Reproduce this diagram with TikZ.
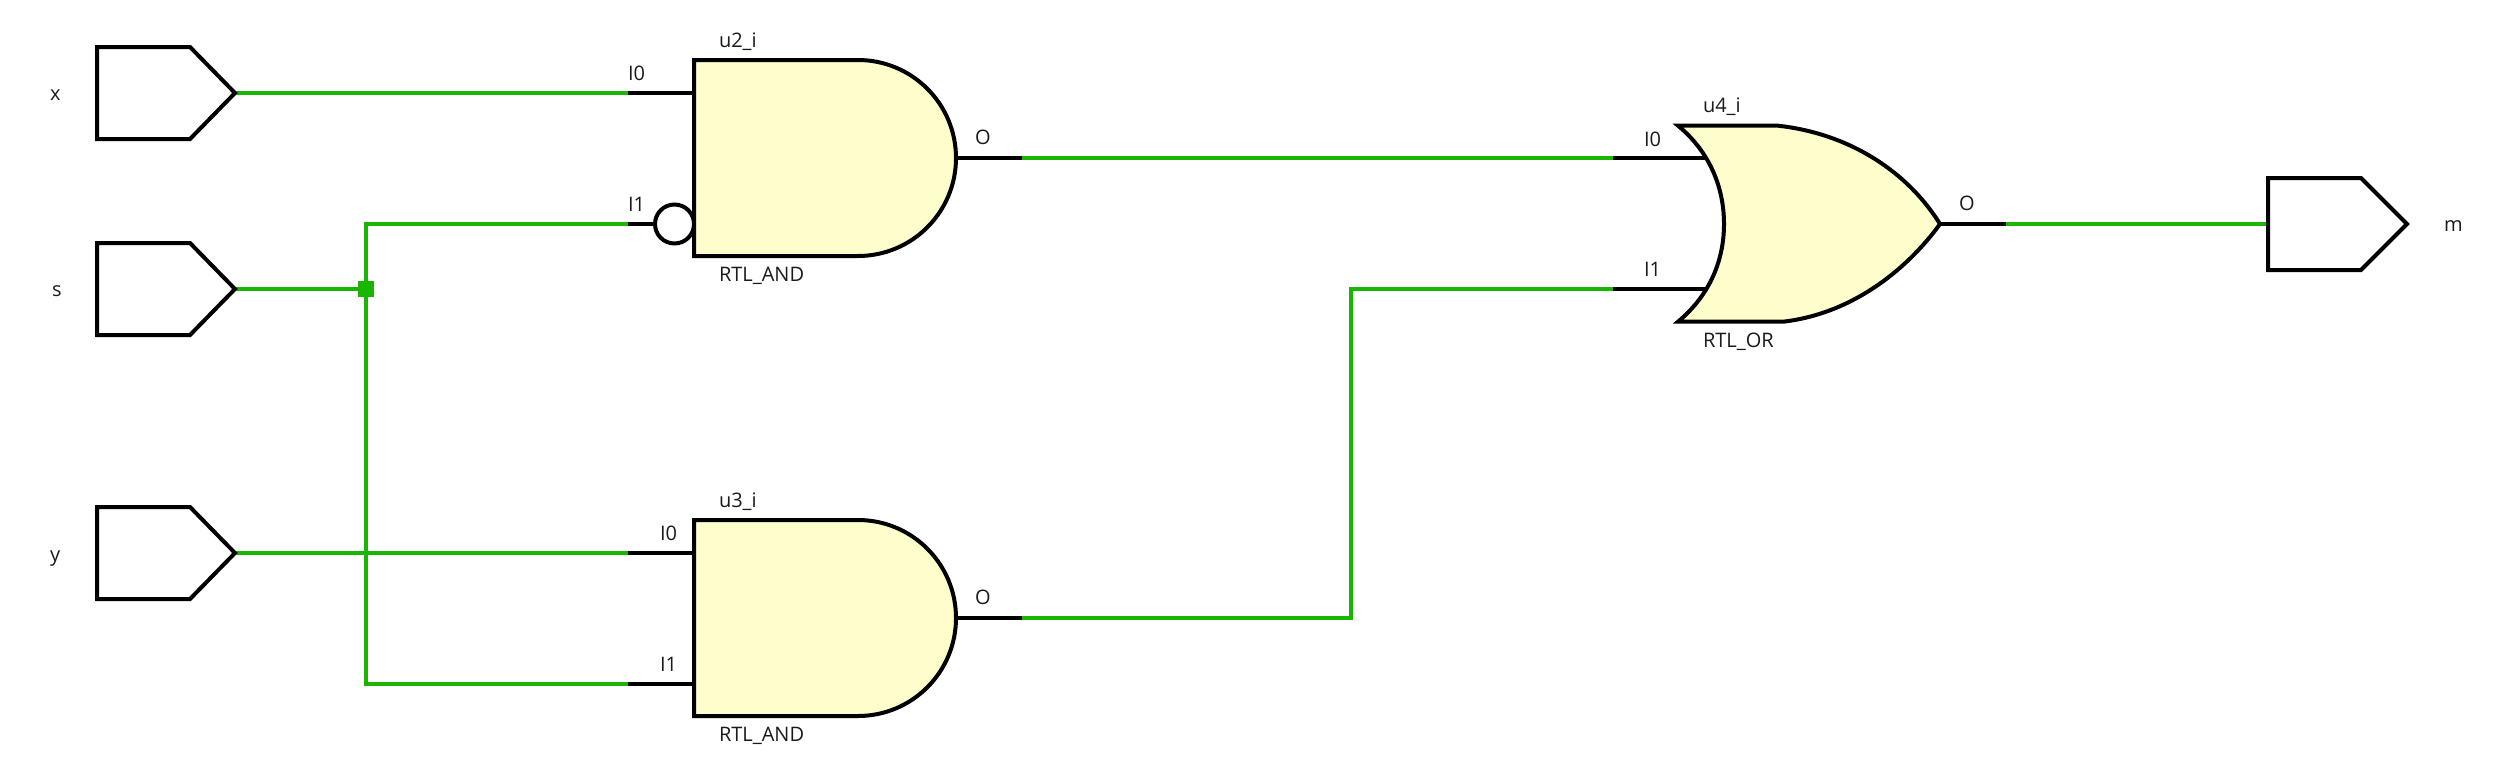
\documentclass[tikz,border=0pt]{standalone}
\usepackage{fontspec}
\setmainfont{Open Sans}
\definecolor{wire}{HTML}{19B500}
\definecolor{gatefill}{HTML}{FEFECC}
\definecolor{txt}{HTML}{1A1A1A}
\tikzset{
  wirepath/.style={draw=wire,line width=4pt},
  pinpath/.style={draw=black,line width=4pt},
  bodypath/.style={draw=black,line width=4pt,fill=gatefill,miter limit=10},
  portpath/.style={draw=black,line width=4pt,fill=white,miter limit=10},
  lab/.style={anchor=base west,inner sep=0pt,outer sep=0pt,text=txt,font=\fontsize{20}{22}\selectfont},
  dotbox/.style={fill=wire,draw=none,minimum size=16pt,inner sep=0pt,outer sep=0pt,rectangle}
}
\begin{document}
\begin{tikzpicture}[x=1pt,y=-1pt]
\useasboundingbox (0,0) rectangle (2510,782);
% coordinates
\coordinate (xo) at (235,93);
\coordinate (so) at (235,289);
\coordinate (yo) at (235,553);
\coordinate (mi) at (2268,224);
\coordinate (u2a) at (628,93);
\coordinate (u2b) at (628,224);
\coordinate (u2o) at (1022,158);
\coordinate (u3a) at (628,553);
\coordinate (u3b) at (628,684);
\coordinate (u3o) at (1022,618);
\coordinate (u4a) at (1613,158);
\coordinate (u4b) at (1613,289);
\coordinate (u4o) at (2006,224);
\coordinate (u3bend1) at (1351,618);
\coordinate (u3bend2) at (1351,289);
\coordinate (jup) at (366,224);
\coordinate (jdn) at (366,684);
% wires
\node[dotbox] (jn) at (366,289) {};
\draw[wirepath] (xo) -- (u2a);
\draw[wirepath] (so) -- (jn.center);
\draw[wirepath] (jn.center) -- (jup) -- (u2b);
\draw[wirepath] (jn.center) -- (jdn) -- (u3b);
\draw[wirepath] (yo) -- (u3a);
\draw[wirepath] (u2o) -- (u4a);
\draw[wirepath] (u3o) -- (u3bend1) -- (u3bend2) -- (u4b);
\draw[wirepath] (u4o) -- (mi);
% pins
\draw[pinpath] (u2a) -- (694,93);
\draw[pinpath] (u2b) -- (656,224);
\draw[pinpath] (956,158) -- (u2o);
\draw[pinpath] (u3a) -- (694,553);
\draw[pinpath] (u3b) -- (694,684);
\draw[pinpath] (956,618) -- (u3o);
\draw[pinpath] (u4a) -- (1706,158);
\draw[pinpath] (u4b) -- (1706,289);
\draw[pinpath] (1940,224) -- (u4o);
% ports
\draw[portpath] (97,47) -- (190,47) -- (xo) -- (190,139) -- (97,139) -- cycle;
\draw[portpath] (97,243) -- (190,243) -- (so) -- (190,335) -- (97,335) -- cycle;
\draw[portpath] (97,507) -- (190,507) -- (yo) -- (190,599) -- (97,599) -- cycle;
\draw[portpath] (2268,178) -- (2361,178) -- (2407,224) -- (2361,270) -- (2268,270) -- cycle;
% AND gates
\draw[line width=4pt,draw=black,fill=white] (674.5,224) circle (19.5);
\draw[bodypath] (694,60) -- (858,60) .. controls (912.1,60) and (956,103.9) .. (956,158) .. controls (956,212.1) and (912.1,256) .. (858,256) -- (694,256) -- cycle;
\draw[bodypath] (694,520) -- (858,520) .. controls (912.1,520) and (956,563.9) .. (956,618) .. controls (956,672.1) and (912.1,716) .. (858,716) -- (694,716) -- cycle;
% OR gate
\draw[bodypath] (1678,125.7) -- (1778,125.7) .. controls (1845,133) and (1905,168) .. (1940,224) .. controls (1905,272) and (1850,314) .. (1783,321.7) -- (1678,321.7) .. controls (1710,295) and (1724,260) .. (1724,224) .. controls (1724,188) and (1710,152) .. (1678,125.7) -- cycle;
% labels
\node[lab] (lx) at (50,100.7) {x};
\node[lab] (ls) at (52,296.7) {s};
\node[lab] (ly) at (50,561) {y};
\node[lab] (lm) at (2444,231.7) {m};
\node[lab] (u2n) at (719,47) {u2\_i};
\node[lab] (u2i0) at (628,80) {I0};
\node[lab] (u2i1) at (628,211) {I1};
\node[lab] (u2op) at (975,144) {O};
\node[lab] (u2t) at (719,281.7) {RTL\_AND};
\node[lab] (u3n) at (719,507) {u3\_i};
\node[lab] (u3i0) at (660,540) {I0};
\node[lab] (u3i1) at (660,671) {I1};
\node[lab] (u3op) at (975,604) {O};
\node[lab] (u3t) at (719,741.7) {RTL\_AND};
\node[lab] (u4n) at (1703,112.7) {u4\_i};
\node[lab] (u4i0) at (1644,146) {I0};
\node[lab] (u4i1) at (1644,276.7) {I1};
\node[lab] (u4op) at (1959,210) {O};
\node[lab] (u4t) at (1703,347.7) {RTL\_OR};
\end{tikzpicture}
\end{document}
